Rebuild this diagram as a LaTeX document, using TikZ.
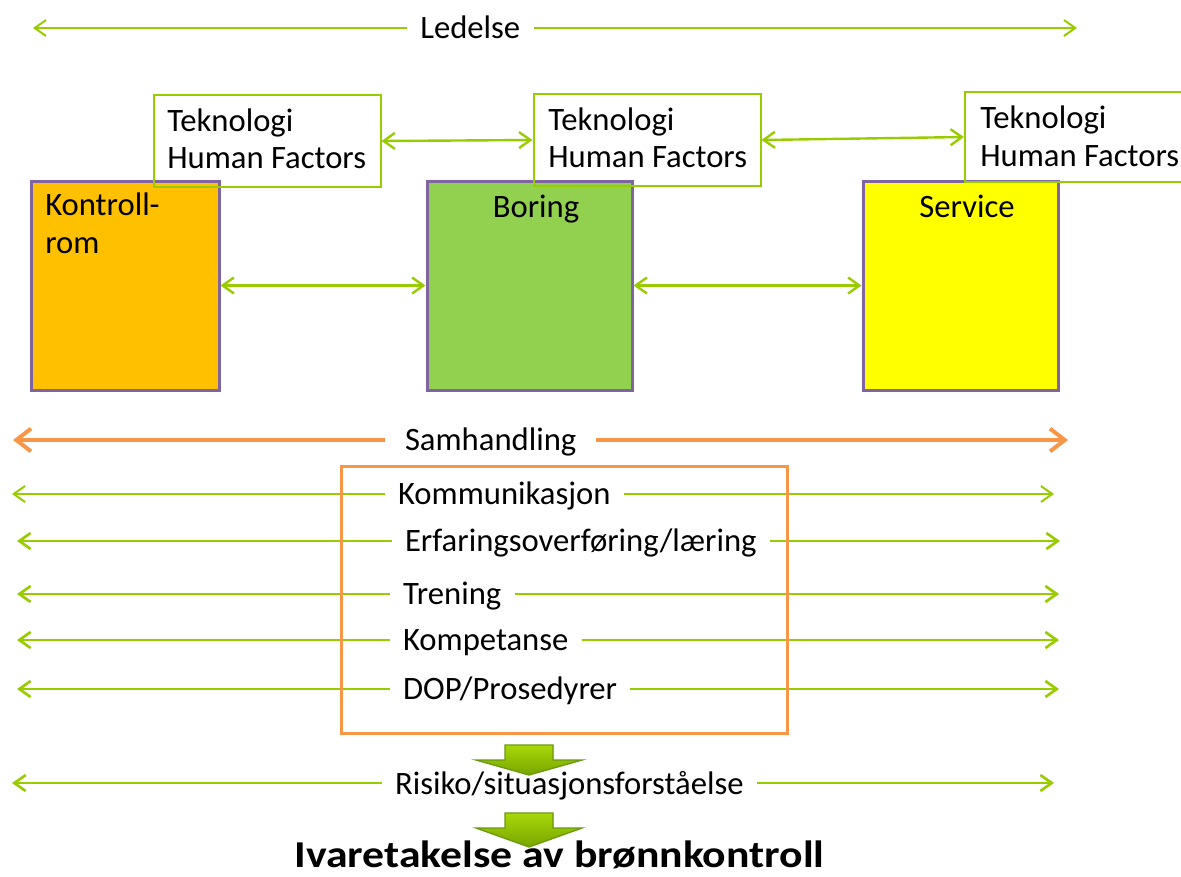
\documentclass[tikz,border=0pt]{standalone}
\usepackage{fontspec}
\setmainfont{Carlito}
\usetikzlibrary{arrows.meta,calc}
\definecolor{lgreen}{HTML}{99CC00}
\definecolor{sorange}{HTML}{F79646}
\definecolor{mpurple}{HTML}{8064A2}
\definecolor{kfill}{HTML}{FFC000}
\definecolor{bfill}{HTML}{92D050}
\definecolor{sfill}{HTML}{FFFF00}
\definecolor{agreenA}{HTML}{A8D80A}
\definecolor{agreenB}{HTML}{78A400}
\definecolor{aborder}{HTML}{6A9A10}
\begin{document}
\begin{tikzpicture}[x=0.75pt,y=-0.75pt,
  txt/.style={font=\fontsize{24.5}{28}\selectfont, inner sep=0pt, anchor=base west},
  ctxt/.style={font=\fontsize{24.5}{28}\selectfont, inner sep=0pt, anchor=base},
  lab/.style={font=\fontsize{24.5}{28}\selectfont, inner ysep=0pt, inner xsep=10pt, outer sep=0pt, anchor=base west},
  olab/.style={lab, inner xsep=15pt},
  mbox/.style={draw=mpurple, line width=2.25pt, minimum height=156.75pt, inner sep=0pt},
  tbox/.style={draw=lgreen, line width=1.5pt, minimum width=170.25pt, minimum height=69pt, inner sep=0pt},
  gtip/.tip={Straight Barb[length=8.5pt,width=12pt]},
  gl/.style={draw=lgreen, line width=2pt, -gtip},
  glthin/.style={draw=lgreen, line width=1.5pt, -gtip},
  gboth/.style={draw=lgreen, line width=1.8pt, gtip-gtip},
  ol/.style={draw=sorange, line width=3pt, -{Straight Barb[length=11pt,width=17pt]}},
  darrow/.style={draw=aborder, line width=1pt, top color=agreenA, bottom color=agreenB}
]
\useasboundingbox (0,0) rectangle (1181,876);

% main boxes
\node[mbox, fill=kfill, minimum width=141pt] (kr) at (125,285.5) {};
\node[mbox, fill=bfill, minimum width=153.75pt] (bo) at (529.5,285.5) {};
\node[mbox, fill=sfill, minimum width=146.25pt] (sv) at (960.5,285.5) {};
\node[txt] (krA) at (45,215) {Kontroll-};
\node[txt] (krB) at (45,253) {rom};
\node[ctxt] (boT) at (536,217) {Boring};
\node[ctxt] (svT) at (967,217) {Service};

% top boxes
\node[tbox] (b1) at (267,141) {};
\node[tbox] (b2) at (647,140) {};
\node[tbox, minimum height=67.5pt] (b3) at (1078.5,137) {};
\node[txt] (b1a) at (167,131) {Teknologi};
\node[txt] (b1b) at (167,168) {Human Factors};
\node[txt] (b2a) at (548,130) {Teknologi};
\node[txt] (b2b) at (548,167) {Human Factors};
\node[txt] (b3a) at (980,128) {Teknologi};
\node[txt] (b3b) at (980,166) {Human Factors};

% connectors between boxes
\draw[gboth] (b1.east) -- (b2.west);
\draw[gboth] (b2.east) -- (b3.west);
\draw[gboth] (kr.east) -- (bo.west);
\draw[gboth] (bo.east) -- (sv.west);

% Ledelse
\coordinate (leL) at (33,28);
\coordinate (leR) at (1077,28);
\node[lab] (le) at (407,38) {Ledelse};
\draw[glthin] (leL -| le.west) -- (leL);
\draw[glthin] (leR -| le.east) -- (leR);

% Samhandling
\coordinate (saL) at (13,440);
\coordinate (saR) at (1068,440);
\node[olab] (sa) at (385,450) {Samhandling};
\draw[ol] (saL -| sa.west) -- (saL);
\draw[ol] (saR -| sa.east) -- (saR);

% green rows
\coordinate (koL) at (12,494);
\coordinate (koR) at (1054,494);
\node[lab] (ko) at (384.7,504) {Kommunikasjon};
\draw[glthin] (koL -| ko.west) -- (koL);
\draw[glthin] (koR -| ko.east) -- (koR);

\coordinate (erL) at (17,541);
\coordinate (erR) at (1060,541);
\node[lab] (er) at (391.7,551) {Erfaringsoverføring/læring};
\draw[gl] (erL -| er.west) -- (erL);
\draw[gl] (erR -| er.east) -- (erR);

\coordinate (trL) at (17,594);
\coordinate (trR) at (1059,594);
\node[lab] (tr) at (389.7,604) {Trening};
\draw[gl] (trL -| tr.west) -- (trL);
\draw[gl] (trR -| tr.east) -- (trR);

\coordinate (kpL) at (17,640);
\coordinate (kpR) at (1059,640);
\node[lab] (kp) at (389.7,650) {Kompetanse};
\draw[gl] (kpL -| kp.west) -- (kpL);
\draw[gl] (kpR -| kp.east) -- (kpR);

\coordinate (doL) at (17,689);
\coordinate (doR) at (1059,689);
\node[lab] (do) at (389.7,699) {DOP/Prosedyrer};
\draw[gl] (doL -| do.west) -- (doL);
\draw[gl] (doR -| do.east) -- (doR);

\coordinate (riL) at (12,783);
\coordinate (riR) at (1054,783);
\node[lab] (ri) at (381.7,794) {Risiko/situasjonsforståelse};
\draw[gl] (riL -| ri.west) -- (riL);
\draw[gl] (riR -| ri.east) -- (riR);

% orange frame
\draw[draw=sorange, line width=2.25pt] (341,466) rectangle (787,733);

% down arrows
\filldraw[darrow] (505,745) -- (553,745) -- (553,760) -- (582,760) -- (529,775) -- (476,760) -- (505,760) -- cycle;
\filldraw[darrow] (505,813) -- (553,813) -- (553,828) -- (582,828) -- (529,847) -- (476,828) -- (505,828) -- cycle;

% bottom text
\node[font=\fontsize{28.5}{32}\selectfont\bfseries, inner sep=0pt, anchor=base] (iv) at (559.5,867) {\scalebox{1.15}[1]{Ivaretakelse av brønnkontroll}};
\end{tikzpicture}
\end{document}
